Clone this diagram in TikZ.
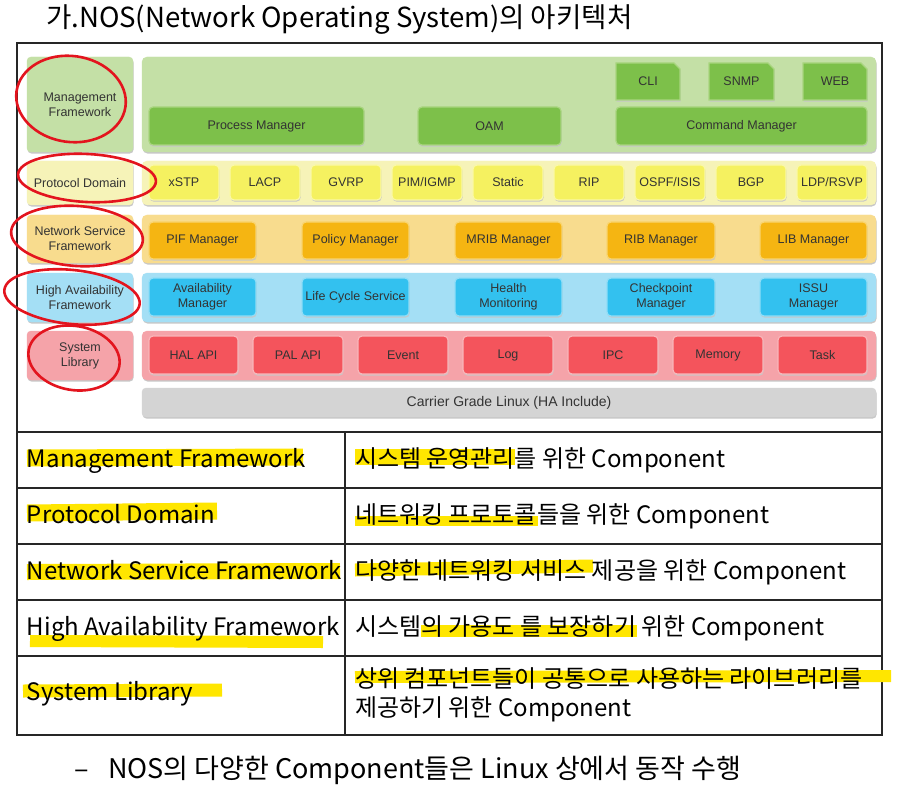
\documentclass[tikz,border=0pt]{standalone}
\usepackage{fontspec}
\setmainfont{Noto Sans CJK KR}
\newfontfamily\lab{Liberation Sans}
\usetikzlibrary{shapes.misc}
\definecolor{mgL}{HTML}{C4E0A6}
\definecolor{mgB}{HTML}{7DC04A}
\definecolor{mgE}{HTML}{A9D57F}
\definecolor{pdL}{HTML}{F6F3B8}
\definecolor{pdB}{HTML}{F5F160}
\definecolor{pdE}{HTML}{FAF8A8}
\definecolor{nsL}{HTML}{F8DC8E}
\definecolor{nsB}{HTML}{F5B512}
\definecolor{nsE}{HTML}{F9D570}
\definecolor{haL}{HTML}{A4DFF5}
\definecolor{haB}{HTML}{33C1EF}
\definecolor{haE}{HTML}{8FDDF7}
\definecolor{slL}{HTML}{F5A3A9}
\definecolor{slB}{HTML}{F4545C}
\definecolor{slE}{HTML}{F9B5B9}
\definecolor{cg}{HTML}{D4D4D4}
\definecolor{inkred}{HTML}{E3141E}
\definecolor{hly}{HTML}{FFE600}
\tikzset{
  every node/.style={inner sep=0pt, outer sep=0pt},
  shade/.style={preaction={draw=none, fill=black!22, transform canvas={shift={(0.6pt,-1.6pt)}}}},
  panel/.style={shade, rounded corners=5pt, fill=#1, draw=#1},
  lbl/.style={shade, rounded corners=4pt, fill=#1, draw=#1, font=\lab\fontsize{12.5}{15}\selectfont, text=black!80, align=center},
  comp/.style 2 args={shade, rounded corners=4pt, fill=#1, draw=#2, line width=1.2pt, font=\lab\fontsize{12.5}{15}\selectfont, text=black!80, align=center},
  cut/.style 2 args={shade, chamfered rectangle, chamfered rectangle corners=north east, chamfered rectangle xsep=3pt, chamfered rectangle ysep=3pt, fill=#1, draw=#2, line width=1.2pt, font=\lab\fontsize{12.5}{15}\selectfont, text=black!80, align=center},
  redc/.style={draw=inkred, line width=2.6pt},
  hl/.style={draw=hly, line width=#1},
  tbl/.style={font=\fontsize{24}{28}\selectfont, anchor=base west},
  frame/.style={draw=black!85, line width=1.6pt}
}
\newcommand\bx[7]{\pgfmathsetmacro\bxw{#4-#2}\pgfmathsetmacro\bxh{#5-#3}%
  \node[#6, minimum width=\bxw pt, minimum height=\bxh pt] (#1) at ({(#2+#4)/2},{(#3+#5)/2}) {#7};}
\begin{document}
\begin{tikzpicture}[x=1pt,y=-1pt]
\useasboundingbox[fill=white] (0,0) rectangle (901,794);
% title
\node[font=\fontsize{27.6}{30}\selectfont, anchor=base west] (title) at (46,28) {가.NOS(Network Operating System)의 아키텍처};
% outer frame
\draw[frame] (17,43) rectangle (882,735);
% ---------- diagram ----------
% Management
\bx{mgl}{27}{57}{133}{152}{lbl=mgL}{Management\\Framework}
\bx{mgp}{142}{57}{876}{152}{panel=mgL}{}
\bx{pm}{149}{107}{364}{145}{comp={mgB}{mgE}}{Process Manager}
\bx{oam}{418}{107}{561}{145}{comp={mgB}{mgE}}{OAM}
\bx{cm}{616}{107}{867}{145}{comp={mgB}{mgE}}{Command Manager}
\bx{cli}{616}{63}{680}{100}{cut={mgB}{mgE}}{CLI}
\bx{snmp}{709}{63}{774}{100}{cut={mgB}{mgE}}{SNMP}
\bx{web}{803}{63}{867}{100}{cut={mgB}{mgE}}{WEB}
% Protocol domain
\bx{pdl}{27}{161}{133}{205}{lbl=pdL}{Protocol Domain}
\bx{pdp}{142}{161}{876}{205}{panel=pdL}{}
\bx{xstp}{149}{165}{219}{200}{comp={pdB}{pdE}}{xSTP}
\bx{lacp}{230}{165}{300}{200}{comp={pdB}{pdE}}{LACP}
\bx{gvrp}{311}{165}{381}{200}{comp={pdB}{pdE}}{GVRP}
\bx{pim}{392}{165}{462}{200}{comp={pdB}{pdE}}{PIM/IGMP}
\bx{static}{473}{165}{543}{200}{comp={pdB}{pdE}}{Static}
\bx{rip}{554}{165}{624}{200}{comp={pdB}{pdE}}{RIP}
\bx{ospf}{635}{165}{705}{200}{comp={pdB}{pdE}}{OSPF/ISIS}
\bx{bgp}{716}{165}{786}{200}{comp={pdB}{pdE}}{BGP}
\bx{ldp}{797}{165}{867}{200}{comp={pdB}{pdE}}{LDP/RSVP}
% Network service
\bx{nsl}{27}{215}{133}{263}{lbl=nsL}{Network Service\\Framework}
\bx{nsp}{142}{215}{876}{263}{panel=nsL}{}
\bx{pif}{149}{222}{256}{259}{comp={nsB}{nsE}}{PIF Manager}
\bx{pol}{302}{222}{409}{259}{comp={nsB}{nsE}}{Policy Manager}
\bx{mrib}{455}{222}{562}{259}{comp={nsB}{nsE}}{MRIB Manager}
\bx{rib}{607}{222}{715}{259}{comp={nsB}{nsE}}{RIB Manager}
\bx{lib}{760}{222}{867}{259}{comp={nsB}{nsE}}{LIB Manager}
% High availability
\bx{hal}{27}{273}{133}{322}{lbl=haL}{High Availability\\Framework}
\bx{hap}{142}{273}{876}{322}{panel=haL}{}
\bx{am}{149}{278}{256}{316}{comp={haB}{haE}}{Availability\\Manager}
\bx{lcs}{302}{278}{409}{316}{comp={haB}{haE}}{Life Cycle Service}
\bx{hm}{455}{278}{562}{316}{comp={haB}{haE}}{Health\\Monitoring}
\bx{ckp}{607}{278}{715}{316}{comp={haB}{haE}}{Checkpoint\\Manager}
\bx{issu}{760}{278}{867}{316}{comp={haB}{haE}}{ISSU\\Manager}
% System library
\bx{sll}{27}{331}{133}{380}{lbl=slL}{System\\Library}
\bx{slp}{142}{331}{876}{380}{panel=slL}{}
\bx{halapi}{149}{336}{238}{374}{comp={slB}{slE}}{HAL API}
\bx{palapi}{253}{336}{343}{374}{comp={slB}{slE}}{PAL API}
\bx{event}{358}{336}{448}{374}{comp={slB}{slE}}{Event}
\bx{log}{463}{336}{553}{374}{comp={slB}{slE}}{Log}
\bx{ipc}{568}{336}{658}{374}{comp={slB}{slE}}{IPC}
\bx{mem}{673}{336}{763}{374}{comp={slB}{slE}}{Memory}
\bx{task}{778}{336}{867}{374}{comp={slB}{slE}}{Task}
% Carrier grade linux
\bx{cgl}{142}{388}{876}{417}{lbl=cg}{\fontsize{14}{16}\selectfont Carrier Grade Linux (HA Include)}
% red hand-drawn circles
\draw[redc, rotate around={-8:(71,99)}] (71,99) ellipse [x radius=55, y radius=43];
\draw[redc, rotate around={-3:(87,178)}] (87,178) ellipse [x radius=69, y radius=24];
\draw[redc, rotate around={-4:(77,236)}] (77,236) ellipse [x radius=66, y radius=30];
\draw[redc, rotate around={-6:(72,297)}] (72,297) ellipse [x radius=68, y radius=27];
\draw[redc, rotate around={-10:(74,358)}] (74,358) ellipse [x radius=46, y radius=32];
% ---------- table ----------
\draw[frame] (17,432) -- (882,432);
\draw[frame] (17,488) -- (882,488);
\draw[frame] (17,544) -- (882,544);
\draw[frame] (17,600) -- (882,600);
\draw[frame] (17,656) -- (882,656);
\draw[frame] (345,432) -- (345,735);
% highlights
\draw[hl=17pt] (27,458) -- (303,457);
\draw[hl=17pt] (27,513) -- (217,511);
\draw[hl=16pt] (27,572) -- (340,571);
\draw[hl=12pt] (30,641) -- (323,642);
\draw[hl=13pt] (23,691) -- (222,690);
\draw[hl=16pt] (355,457) -- (515,457);
\draw[hl=10pt] (355,521) -- (538,521);
\draw[hl=13pt] (355,570) -- (593,566);
\draw[hl=12pt] (421,631) -- (637,631);
\draw[hl=12pt] (355,677) -- (891,676);
% table text
\node[tbl] (t1a) at (27,467) {Management Framework};
\node[tbl] (t2a) at (27,523) {Protocol Domain};
\node[tbl] (t3a) at (27,579) {Network Service Framework};
\node[tbl] (t4a) at (27,635) {High Availability Framework};
\node[tbl] (t5a) at (27,700) {System Library};
\node[tbl] (t1b) at (355,467) {시스템 운영관리를 위한 Component};
\node[tbl] (t2b) at (355,523) {네트워킹 프로토콜들을 위한 Component};
\node[tbl] (t3b) at (355,579) {다양한 네트워킹 서비스 제공을 위한 Component};
\node[tbl] (t4b) at (355,635) {시스템의 가용도 를 보장하기 위한 Component};
\node[tbl] (t5b) at (355,687) {상위 컴포넌트들이 공통으로 사용하는 라이브러리를};
\node[tbl] (t5c) at (355,716) {제공하기 위한 Component};
% bottom note
\node[font=\fontsize{27}{30}\selectfont, anchor=base west] (dash) at (74,778) {–};
\node[font=\fontsize{27}{30}\selectfont, anchor=base west] (note) at (108,778) {NOS의 다양한 Component들은 Linux 상에서 동작 수행};
\end{tikzpicture}
\end{document}
